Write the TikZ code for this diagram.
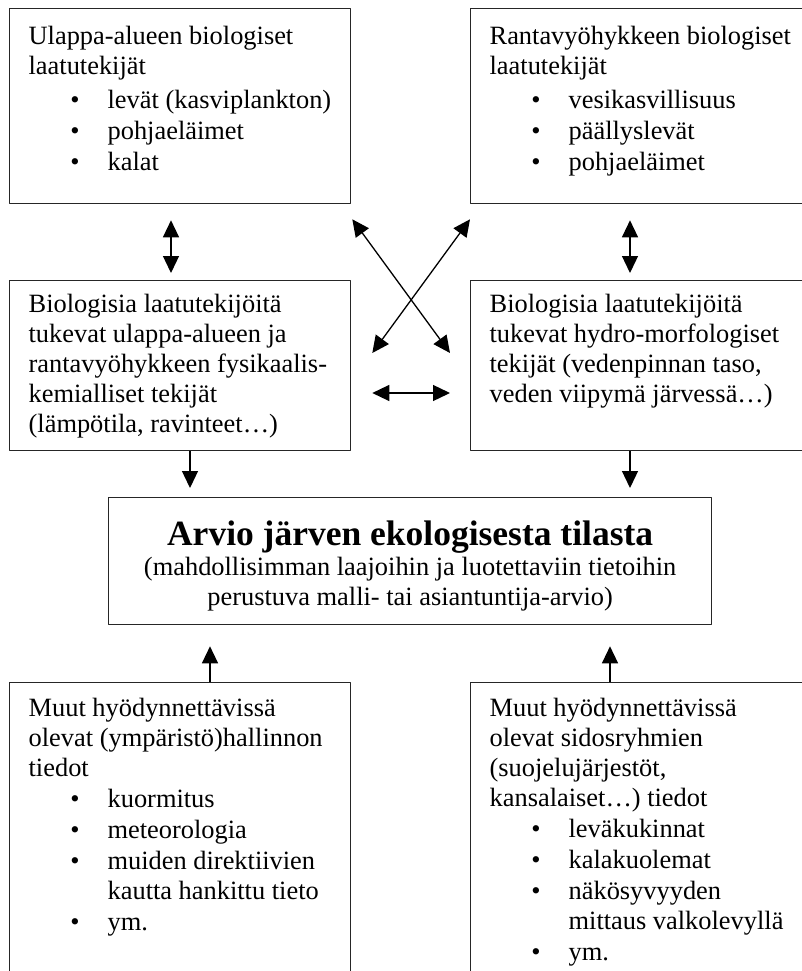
\documentclass[tikz,border=0pt]{standalone}
\usepackage{fontspec}
\setmainfont{Liberation Serif}
\usetikzlibrary{arrows.meta}
\newcommand{\bodysize}{\fontsize{26.4pt}{30pt}\selectfont}
\newcommand{\bitem}[1]{\par\hangindent=79pt\hangafter=0\noindent\llap{\textbullet\hspace{28pt}}#1}
\newcommand{\boxtext}[4]{\parbox[c][#2][t]{#1}{\bodysize\hyphenpenalty=10000\parindent=0pt\leftskip=19pt\rightskip=0pt plus 1fil\parskip=1pt\vspace*{#3}\strut#4\par}}
\begin{document}
\begin{tikzpicture}[x=1pt,y=-1pt,line join=round,>={Triangle[length=17pt,width=16pt]},line width=1.3pt]
	\tikzset{box/.style={draw=black!85,inner sep=0pt,anchor=north west}}
	\useasboundingbox (0,0) rectangle (802,971);
	\clip (0,0) rectangle (802,971);
	% top row
	\node[box] (tl) at (9,8) {\boxtext{341pt}{195pt}{14pt}{Ulappa-alueen biologiset\\laatutekijät\par\vspace{3pt}
		\bitem{levät (kasviplankton)}\bitem{pohjaeläimet}\bitem{kalat}}};
	\node[box] (tr) at (470,8) {\boxtext{345pt}{195pt}{14pt}{Rantavyöhykkeen biologiset\\laatutekijät\par\vspace{3pt}
		\bitem{vesikasvillisuus}\bitem{päällyslevät}\bitem{pohjaeläimet}}};
	% supporting factors
	\node[box] (ml) at (9,280) {\boxtext{341pt}{170pt}{10pt}{Biologisia laatutekijöitä\\tukevat ulappa-alueen ja\\rantavyöhykkeen fysikaalis-\\kemialliset tekijät\\(lämpötila, ravinteet…)}};
	\node[box] (mr) at (470,280) {\boxtext{345pt}{170pt}{10pt}{Biologisia laatutekijöitä\\tukevat hydro-morfologiset\\tekijät (vedenpinnan taso,\\veden viipymä järvessä…)}};
	% assessment
	\node[box] (ar) at (108,497) {\parbox[c][127pt][t]{603pt}{\centering\vspace*{22pt}%
		{\fontsize{35.5pt}{37pt}\selectfont\bfseries\strut Arvio järven ekologisesta tilasta\par}%
		\bodysize(mahdollisimman laajoihin ja luotettaviin tietoihin\\perustuva malli- tai asiantuntija-arvio)\par}};
	% other data
	\node[box] (bl) at (9,682) {\boxtext{341pt}{310pt}{12pt}{Muut hyödynnettävissä\\olevat (ympäristö)hallinnon\\tiedot
		\bitem{kuormitus}\bitem{meteorologia}\bitem{muiden direktiivien\\kautta hankittu tieto}\bitem{ym.}}};
	\node[box] (br) at (470,682) {\boxtext{345pt}{310pt}{12pt}{Muut hyödynnettävissä\\olevat sidosryhmien\\(suojelujärjestöt,\\kansalaiset…) tiedot
		\bitem{leväkukinnat}\bitem{kalakuolemat}\bitem{näkösyvyyden\\mittaus valkolevyllä}\bitem{ym.}}};
	% links
	\draw[<->,shorten <=16pt,shorten >=7pt] ([shift={(162,0)}]tl.south west)--([shift={(162,0)}]ml.north west);
	\draw[<->,shorten <=16pt,shorten >=7pt] ([shift={(160,0)}]tr.south west)--([shift={(160,0)}]mr.north west);
	\draw[<->] ([shift={(1,15)}]tl.south east)--([shift={(-20,73)}]mr.north west);
	\draw[<->] ([shift={(0,15)}]tr.south west)--([shift={(21,73)}]ml.north east);
	\draw[<->] ([shift={(21,113)}]ml.north east)--([shift={(-20,113)}]mr.north west);
	\draw[->] ([shift={(181,0)}]ml.south west)--([shift={(82,-9)}]ar.north west);
	\draw[->] ([shift={(160,0)}]mr.south west)--([shift={(522,-9)}]ar.north west);
	\draw[->] ([shift={(201,0)}]bl.north west)--([shift={(102,21)}]ar.south west);
	\draw[->] ([shift={(140,0)}]br.north west)--([shift={(502,21)}]ar.south west);
\end{tikzpicture}
\end{document}
